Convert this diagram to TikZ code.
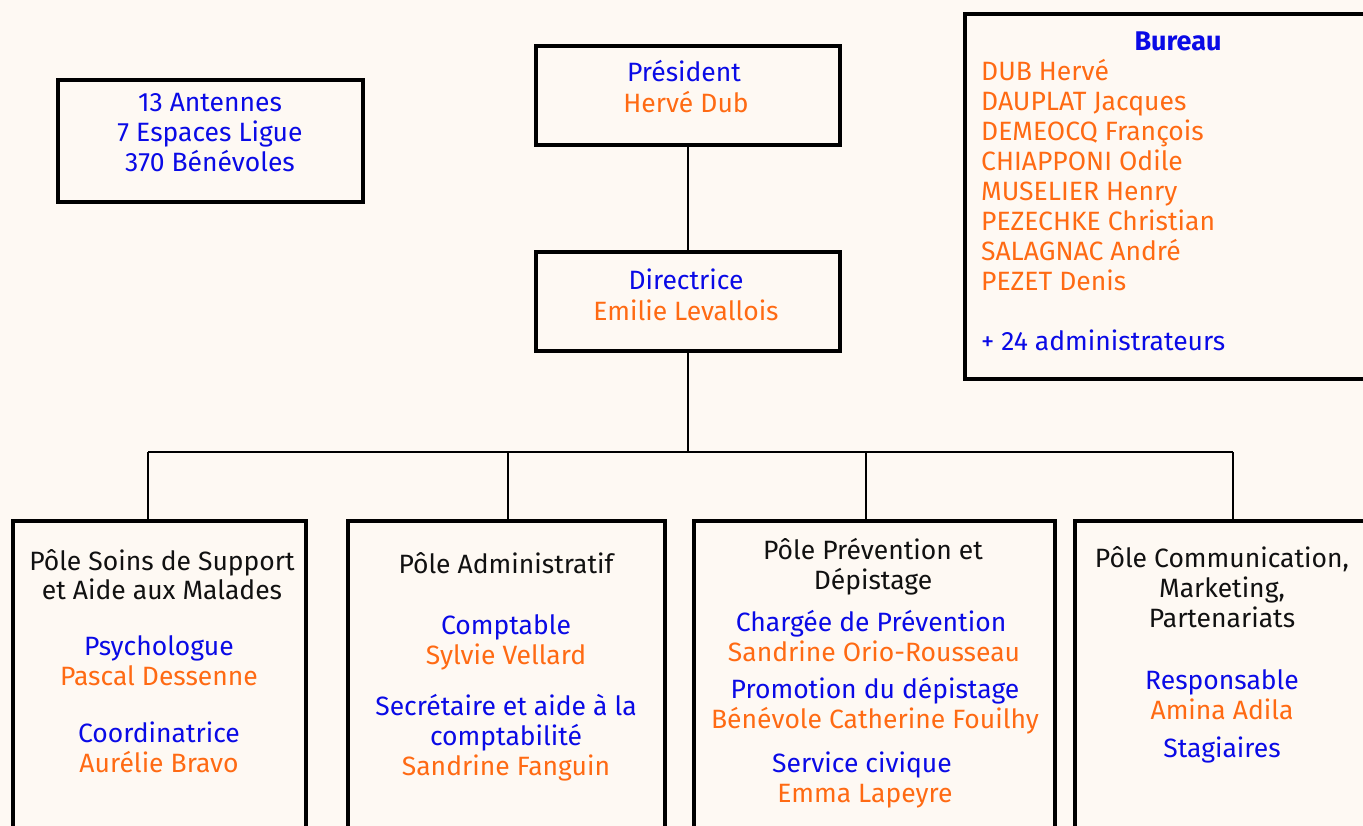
\documentclass[tikz,border=0pt]{standalone}
\usepackage{fontspec}
\setmainfont{Fira Sans}
\definecolor{bg}{HTML}{FEF9F3}
\definecolor{tblue}{HTML}{0A0AE6}
\definecolor{torange}{HTML}{FF6A13}
\definecolor{tblack}{HTML}{111111}
\tikzset{
  box/.style={draw=black, line width=4pt, fill=bg, rectangle, inner sep=0pt},
  link/.style={draw=black, line width=1.6pt},
  tx/.style={anchor=base, inner sep=0pt, font=\fontsize{26.5}{30}\selectfont},
  bl/.style={tx, text=tblue},
  og/.style={tx, text=torange},
  bk/.style={tx, text=tblack},
}
\begin{document}
\begin{tikzpicture}[x=1pt,y=-1pt]
\path[use as bounding box, fill=bg] (0,0) rectangle (1363,826);
\clip (0,0) rectangle (1363,826);
% boxes
\node[box, minimum width=305pt, minimum height=122pt] (stats) at (210.5,141) {};
\node[box, minimum width=304pt, minimum height=99pt] (pres) at (688,95.5) {};
\node[box, minimum width=304pt, minimum height=99pt] (dir) at (688,301.5) {};
\node[box, minimum width=420pt, minimum height=365pt] (bureau) at (1175,196.5) {};
\node[box, minimum width=293pt, minimum height=340pt] (b1) at (159.5,691) {};
\node[box, minimum width=317pt, minimum height=340pt] (b2) at (506.5,691) {};
\node[box, minimum width=361pt, minimum height=340pt] (b3) at (874.5,691) {};
\node[box, minimum width=320pt, minimum height=340pt] (b4) at (1235,691) {};
% connectors
\coordinate (j) at (688,452);
\coordinate (d1) at (148,452);
\coordinate (d2) at (508,452);
\coordinate (d3) at (866,452);
\coordinate (d4) at (1233,452);
\draw[link] (pres.south) -- (dir.north);
\draw[link] (dir.south) -- (j);
\draw[link] (d1) -- (d4);
\draw[link] (d1) -- (d1 |- b1.north);
\draw[link] (d2) -- (d2 |- b2.north);
\draw[link] (d3) -- (d3 |- b3.north);
\draw[link] (d4) -- (d4 |- b4.north);
% stats text
\node[bl] (s1) at (210,112) {13 Antennes};
\node[bl] (s2) at (210,142) {7 Espaces Ligue};
\node[bl] (s3) at (210,172) {370 Bénévoles};
% president
\node[bl] (p1) at (684,82) {Président};
\node[og] (p2) at (686,113) {Hervé Dub};
% directrice
\node[bl] (r1) at (686,290) {Directrice};
\node[og] (r2) at (686,320) {Emilie Levallois};
% bureau
\node[tx, text=tblue, font=\fontsize{27}{30}\bfseries] (bu) at (1178,51) {Bureau};
\node[og, anchor=base west] (n1) at (981,81) {DUB Hervé};
\node[og, anchor=base west] (n2) at (981,111) {DAUPLAT Jacques};
\node[og, anchor=base west] (n3) at (981,141) {DEMEOCQ François};
\node[og, anchor=base west] (n4) at (981,171) {CHIAPPONI Odile};
\node[og, anchor=base west] (n5) at (981,201) {MUSELIER Henry};
\node[og, anchor=base west] (n6) at (981,231) {PEZECHKE Christian};
\node[og, anchor=base west] (n7) at (981,261) {SALAGNAC André};
\node[og, anchor=base west] (n8) at (981,291) {PEZET Denis};
\node[bl, anchor=base west] (n9) at (981,351) {+ 24 administrateurs};
% box 1
\node[bk] (a1) at (162,570) {Pôle Soins de Support};
\node[bk] (a2) at (162,599) {et Aide aux Malades};
\node[bl] (a3) at (159,655) {Psychologue};
\node[og] (a4) at (159,685) {Pascal Dessenne};
\node[bl] (a5) at (159,742) {Coordinatrice};
\node[og] (a6) at (159,772) {Aurélie Bravo};
% box 2
\node[bk] (c1) at (506,573) {Pôle Administratif};
\node[bl] (c2) at (506,634) {Comptable};
\node[og] (c3) at (506,664) {Sylvie Vellard};
\node[bl] (c4) at (506,715) {Secrétaire et aide à la};
\node[bl] (c5) at (506,745) {comptabilité};
\node[og] (c6) at (506,775) {Sandrine Fanguin};
% box 3
\node[bk] (e1) at (873,559) {Pôle Prévention et};
\node[bk] (e2) at (873,589) {Dépistage};
\node[bl] (e3) at (871,631) {Chargée de Prévention};
\node[og] (e4) at (874,661) {Sandrine Orio-Rousseau};
\node[bl] (e5) at (875,698) {Promotion du dépistage};
\node[og] (e6) at (875,728) {Bénévole Catherine Fouilhy};
\node[bl] (e7) at (862,772) {Service civique};
\node[og] (e8) at (865,802) {Emma Lapeyre};
% box 4
\node[bk] (f1) at (1222,567) {Pôle Communication,};
\node[bk] (f2) at (1222,597) {Marketing,};
\node[bk] (f3) at (1222,627) {Partenariats};
\node[bl] (f4) at (1222,689) {Responsable};
\node[og] (f5) at (1222,719) {Amina Adila};
\node[bl] (f6) at (1222,757) {Stagiaires};
\end{tikzpicture}
\end{document}
